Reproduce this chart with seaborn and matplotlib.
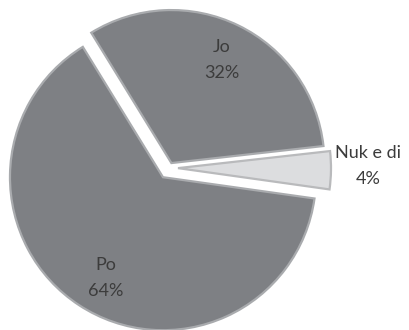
import numpy as np
import matplotlib
matplotlib.use("Agg")
import matplotlib.pyplot as plt
import seaborn as sns

# Survey answers and their shares (percent)
categories = ["Jo", "Nuk e di", "Po"]
values = [32, 4, 64]

sns.set_theme(style="white")
plt.rcParams["font.family"] = ["Lato", "DejaVu Sans"]

fill_colors = ["#7e8084", "#dcdddf", "#7e8084"]
edge_colors = ["#a9abae", "#b9babc", "#a9abae"]
explode_px = [5.5, 9, 11]          # offset of each wedge, in pixels
label_dist = [0.75, 1.24, 0.757]   # label distance from wedge tip, in radii
label_turn = [0.0, 1.4, 3.7]       # small angular nudge of each label, degrees

fig = plt.figure(figsize=(4.09, 3.30), dpi=100)
ax = fig.add_axes([0, 0, 1, 1])

radius = 153
center = (169, 162)

wedges, _ = ax.pie(
    values,
    explode=explode_px,
    colors=fill_colors,
    startangle=121.6,
    counterclock=False,
    radius=radius,
    center=center,
    frame=True,
    wedgeprops=dict(linewidth=1.6),
)
ax.set_xlim(0, 409)
ax.set_ylim(0, 330)
ax.set_aspect("auto")
ax.axis("off")

for w, ec in zip(wedges, edge_colors):
    w.set_edgecolor(ec)

total = sum(values)
for w, name, v, d, turn in zip(wedges, categories, values, label_dist, label_turn):
    mid = np.deg2rad(0.5 * (w.theta1 + w.theta2) + turn)
    cx, cy = w.center
    x = cx + d * radius * np.cos(mid)
    y = cy + d * radius * np.sin(mid)
    ax.text(x, y, f"{name}\n{round(100 * v / total)}%", ha="center", va="center",
            fontsize=13, color="#3c3c3c", linespacing=1.75)

fig.savefig("out.png", dpi=100)
